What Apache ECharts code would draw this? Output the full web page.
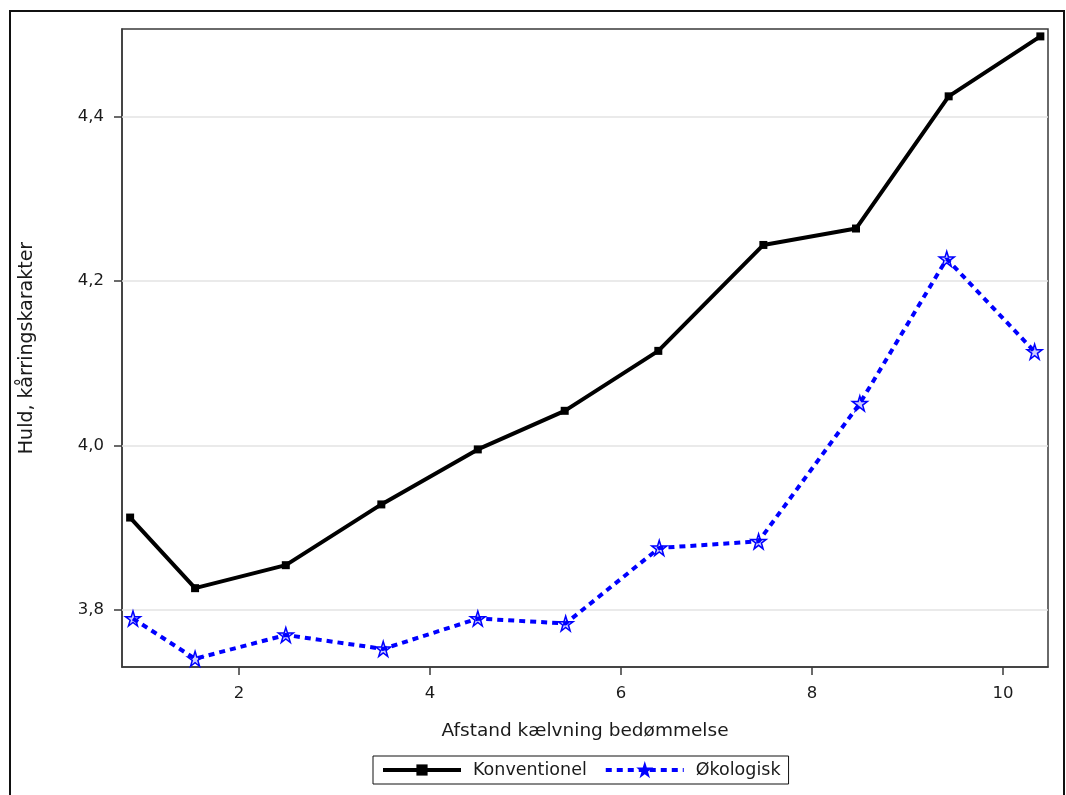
<!DOCTYPE html>
<html>
<head>
<meta charset="utf-8">
<script src="https://cdn.jsdelivr.net/npm/echarts@6/dist/echarts.min.js"></script>
<style>
  html, body { margin: 0; padding: 0; background: #fff; }
  #chart { width: 1066px; height: 795px; }
</style>
</head>
<body>
<div id="chart"></div>
<script>
// Huld (kårringskarakter) mod afstand kælvning–bedømmelse
const seriesNames = ['Konventionel', 'Økologisk'];

const konvX = [0.86, 1.54, 2.49, 3.49, 4.50, 5.41, 6.39, 7.49, 8.46, 9.43, 10.39];
const konvY = [3.912, 3.826, 3.854, 3.928, 3.995, 4.042, 4.115, 4.244, 4.264, 4.425, 4.498];

const okoX = [0.89, 1.54, 2.49, 3.51, 4.50, 5.42, 6.40, 7.44, 8.50, 9.41, 10.33];
const okoY = [3.789, 3.740, 3.769, 3.752, 3.789, 3.783, 3.875, 3.883, 4.051, 4.227, 4.114];

const xTicks = [2, 4, 6, 8, 10];
const yTicks = [3.8, 4.0, 4.2, 4.4];

const xTitle = 'Afstand kælvning bedømmelse';
const yTitle = 'Huld, kårringskarakter';

const FONT = 'DejaVu Sans';
const TEXT = '#1a1a1a';
const AXIS = '#3a3a3a';
const STAR = 'path://M50,2 L61,37 L98,37 L68,59 L79,95 L50,73 L21,95 L32,59 L2,37 L39,37 Z';

const pairs = (xs, ys) => xs.map((x, i) => [x, ys[i]]);
const comma = v => v.toFixed(1).replace('.', ',');

const chart = echarts.init(document.getElementById('chart'), null, { renderer: 'canvas' });

chart.setOption({
  backgroundColor: '#fff',
  animation: false,
  textStyle: { fontFamily: FONT, color: TEXT },
  graphic: [{
    type: 'rect',
    shape: { x: 10, y: 11, width: 1054, height: 800 },
    style: { fill: 'none', stroke: '#111', lineWidth: 2 },
    silent: true
  }],
  grid: {
    left: 122, top: 29, right: 18, bottom: 128,
    show: true, borderColor: AXIS, borderWidth: 1.5, backgroundColor: '#fff'
  },
  legend: {
    left: 373, top: 756,
    padding: [5, 8, 5, 8],
    borderColor: '#111', borderWidth: 1,
    itemWidth: 78, itemHeight: 14, itemGap: 17,
    textStyle: { fontFamily: FONT, fontSize: 17.5, color: TEXT, padding: [0, 0, 0, 7] },
    data: [
      { name: seriesNames[0], lineStyle: { width: 4 } },
      { name: seriesNames[1], lineStyle: { width: 4 },
        itemStyle: { color: '#0000ff', borderColor: '#0000ff' } }
    ]
  },
  xAxis: {
    type: 'value',
    min: 0.775, max: 10.47,
    name: xTitle, nameLocation: 'middle', nameGap: 55,
    nameTextStyle: { fontFamily: FONT, fontSize: 18.5, color: TEXT },
    axisLine: { show: true, onZero: false, lineStyle: { color: AXIS, width: 1.5 } },
    axisTick: { show: true, length: 8, customValues: xTicks, lineStyle: { color: AXIS, width: 1.5 } },
    axisLabel: { customValues: xTicks, margin: 18, fontFamily: FONT, fontSize: 16.5, color: TEXT },
    splitLine: { show: false }
  },
  yAxis: {
    type: 'value',
    min: 3.73, max: 4.507,
    name: yTitle, nameLocation: 'middle', nameGap: 85, nameRotate: 90,
    nameTextStyle: { fontFamily: FONT, fontSize: 19, color: TEXT },
    axisLine: { show: true, onZero: false, lineStyle: { color: AXIS, width: 1.5 } },
    axisTick: { show: true, length: 8, customValues: yTicks, lineStyle: { color: AXIS, width: 1.5 } },
    axisLabel: { customValues: yTicks, margin: 18, fontFamily: FONT, fontSize: 16.5, color: TEXT, formatter: comma },
    splitLine: { show: false }
  },
  series: [
    {
      name: seriesNames[0],
      type: 'line',
      data: pairs(konvX, konvY),
      symbol: 'rect', symbolSize: 8,
      itemStyle: { color: '#000' },
      lineStyle: { color: '#000', width: 4 },
      z: 3,
      markLine: {
        silent: true, symbol: 'none', z: 1,
        label: { show: false },
        lineStyle: { color: '#e3e3e3', width: 1.5, type: 'solid' },
        data: yTicks.map(v => ({ yAxis: v }))
      }
    },
    {
      name: seriesNames[1],
      type: 'line',
      data: pairs(okoX, okoY),
      symbol: STAR, symbolSize: 15,
      itemStyle: { color: 'rgba(0,0,255,0.2)', borderColor: '#0000ff', borderWidth: 1.5 },
      lineStyle: { color: '#0000ff', width: 4, type: [6, 5] },
      z: 2
    }
  ]
});
</script>
</body>
</html>
